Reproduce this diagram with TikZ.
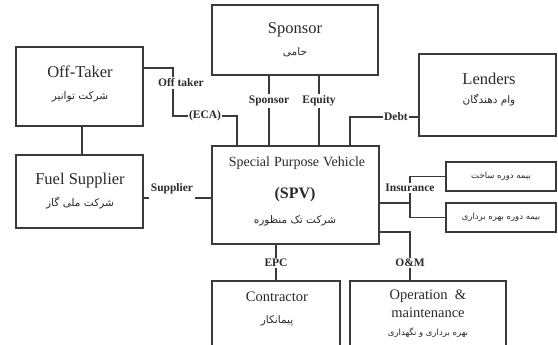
\documentclass[tikz,border=0pt]{standalone}
\usepackage{fontspec}
\setmainfont{Liberation Serif}
\newfontfamily\fa[Script=Arabic]{DejaVu Sans}
\TeXXeTstate=1
\usetikzlibrary{calc}
\definecolor{linec}{HTML}{3A3A3A}
\definecolor{textc}{HTML}{2A2A2A}
\begin{document}
\begin{tikzpicture}[x=1pt,y=-1pt,
  box/.style={draw=linec, line width=1.1pt, inner sep=0pt},
  conn/.style={draw=linec, line width=1.1pt},
  lab/.style={fill=white, inner sep=1.5pt, text=textc, font=\fontsize{11.5}{12}\selectfont\bfseries},
  title/.style={inner sep=0pt, text=textc, font=\fontsize{16.5}{18}\selectfont},
  mid/.style={inner sep=0pt, text=textc, font=\fontsize{14.5}{16}\selectfont},
  fatext/.style={inner sep=0pt, text=textc, font=\fa\fontsize{10.5}{12}\selectfont},
  fasmall/.style={inner sep=0pt, text=textc, font=\fa\fontsize{8.5}{10}\selectfont}]
\path[use as bounding box] (0,0) rectangle (558,345);
\clip (0,0) rectangle (558,345);
\fill[white] (0,0) rectangle (558,345);

% boxes
\node[box, minimum width=166pt, minimum height=70pt] (sponsor) at (295,40) {};
\node[box, minimum width=127pt, minimum height=79pt] (offtaker) at (79.5,86.5) {};
\node[box, minimum width=127pt, minimum height=73pt] (fuel) at (79.5,191.5) {};
\node[box, minimum width=137pt, minimum height=82pt] (lenders) at (487.5,95) {};
\node[box, minimum width=167pt, minimum height=98pt] (spv) at (295.5,195) {};
\node[box, minimum width=128pt, minimum height=68pt] (contractor) at (276,315) {};
\node[box, minimum width=156pt, minimum height=68pt] (om) at (428,315) {};
\node[box, minimum width=110pt, minimum height=29pt] (ins1) at (501,176.5) {};
\node[box, minimum width=110pt, minimum height=29pt] (ins2) at (501,217.5) {};

% texts in boxes
\node[title] (tsponsor) at (295,30) {Sponsor};
\node[fatext] (fsponsor) at (295,52) {\beginR حامی\endR};
\node[title] (toff) at (80,72) {Off-Taker};
\node[fatext] (foff) at (80,97) {\beginR شرکت توانیر\endR};
\node[title] (tfuel) at (80,181) {Fuel Supplier};
\node[fatext] (ffuel) at (80,203) {\beginR شرکت ملی گاز\endR};
\node[title] (tlend) at (489,79) {Lenders};
\node[fatext] (flend) at (489,100) {\beginR وام دهندگان\endR};
\node[mid, font=\fontsize{14}{16}\selectfont] (tspv) at (297,163) {Special\hspace{4pt}Purpose\hspace{4pt}Vehicle};
\node[mid, font=\fontsize{16}{18}\selectfont\bfseries] (tspv2) at (295,195) {(SPV)};
\node[fatext] (fspv) at (295,221) {\beginR شرکت تک منظوره\endR};
\node[mid] (tcon) at (277,297) {Contractor};
\node[fatext] (fcon) at (277,321) {\beginR پیمانکار\endR};
\node[mid] (tom1) at (428,296) {Operation \ \&};
\node[mid] (tom2) at (428,313) {maintenance};
\node[fasmall] (fom) at (428,333) {\beginR بهره برداری و نگهداری\endR};
\node[fasmall] (fins1) at (501,176.5) {\beginR بیمه دوره ساخت\endR};
\node[fasmall] (fins2) at (501,217.5) {\beginR بیمه دوره بهره برداری\endR};

% connector coordinates
\coordinate (eca1) at (173,68);
\coordinate (eca2) at (173,116);
\coordinate (eca3) at (237,116);
\coordinate (spx) at (269,0);
\coordinate (eqx) at (319,0);
\coordinate (debt) at (350,117);
\coordinate (sup) at (0,198);
\coordinate (insmid) at (410,203);
\coordinate (om1) at (410,232);

% connectors
\draw[conn] ([xshift=2.5pt]offtaker.south) -- ([xshift=2.5pt]fuel.north);
\draw[conn] (offtaker.east |- eca1) -- (eca1) -- (eca2) -- (eca3) -- (spv.north -| eca3);
\draw[conn] (sponsor.south -| spx) -- (spv.north -| spx);
\draw[conn] (sponsor.south -| eqx) -- (spv.north -| eqx);
\draw[conn] (lenders.west |- debt) -- (debt) -- (spv.north -| debt);
\draw[conn] (fuel.east |- sup) -- (spv.west |- sup);
\draw[conn] (spv.east |- insmid) -- (insmid);
\draw[conn] (ins1.west) -- (ins1.west -| insmid) -- (ins2.west -| insmid) -- (ins2.west);
\draw[conn] (spv.east |- om1) -- (om1) -- (om.north -| om1);
\draw[conn] (spv.south -| contractor.north) -- (contractor.north);

% connector labels
\node[lab] (loff) at (181,83) {Off taker};
\node[lab] (leca) at (205,116) {(ECA)};
\node[lab] (lsp) at (269,101) {Sponsor};
\node[lab] (leq) at (319,101) {Equity};
\node[lab] (ldebt) at (396,117) {Debt};
\node[lab, inner ysep=5pt] (lsup) at (172,189) {Supplier};
\node[lab] (lins) at (410,188) {Insurance};
\node[lab] (lom) at (410,263) {O\&M};
\node[lab] (lepc) at (276,263) {EPC};
\end{tikzpicture}
\end{document}
